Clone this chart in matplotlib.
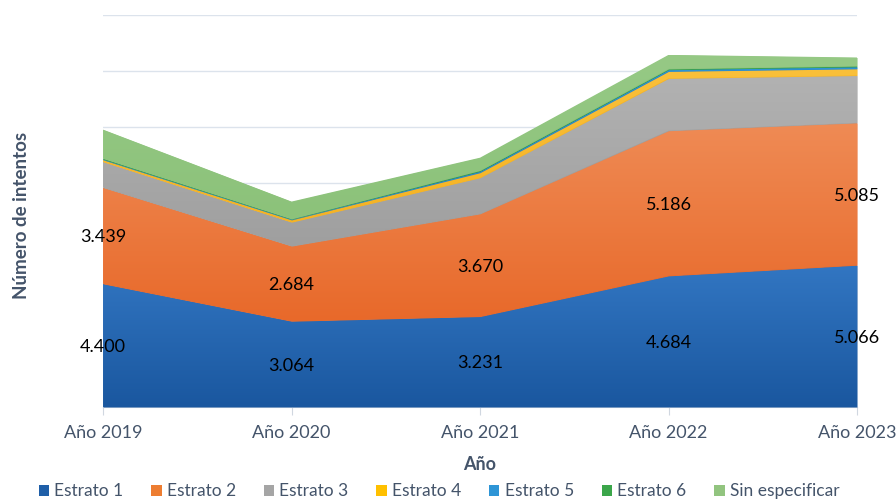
import numpy as np
import matplotlib
matplotlib.use('Agg')
import matplotlib.pyplot as plt
from matplotlib.colors import LinearSegmentedColormap
from matplotlib.patches import Patch

plt.rcParams['font.family'] = ['Lato', 'DejaVu Sans']

# datos
anios = ['Año 2019', 'Año 2020', 'Año 2021', 'Año 2022', 'Año 2023']
estrato1 = [4400, 3064, 3231, 4684, 5066]
estrato2 = [3439, 2684, 3670, 5186, 5085]
estrato3 = [920, 855, 1290, 1870, 1690]
estrato4 = [70, 80, 180, 250, 240]
estrato5 = [20, 20, 50, 60, 70]
estrato6 = [30, 20, 30, 30, 30]
sin_especificar = [1030, 615, 455, 500, 305]

series = [estrato1, estrato2, estrato3, estrato4, estrato5, estrato6, sin_especificar]
nombres = ['Estrato 1', 'Estrato 2', 'Estrato 3', 'Estrato 4', 'Estrato 5',
           'Estrato 6', 'Sin especificar']
# (color arriba, color abajo) para el degradado
colores = [('#3276C2', '#1A579F'), ('#EF8B55', '#E8692A'), ('#B2B2B2', '#9F9F9F'),
           ('#FAC03A', '#F5B324'), ('#2E95D6', '#2A86C6'), ('#3BA64A', '#339A43'),
           ('#96C985', '#8CC27A')]
color_leyenda = ['#1F5FA8', '#ED7D31', '#A5A5A5', '#FFC000', '#2E95D6', '#3BA64A', '#92C47F']
texto = '#44546A'

x = np.arange(len(anios))
fig = plt.figure(figsize=(8.96, 5.04), dpi=100)
ax = fig.add_axes([0.115, 0.1925, 0.8415, 0.7775])

abajo = np.zeros(len(x))
for i, (vals, (c_top, c_bot)) in enumerate(zip(series, colores)):
    arriba = abajo + np.array(vals)
    poly = ax.fill_between(x, abajo, arriba, color=c_bot, lw=0, zorder=2 + i)
    cmap = LinearSegmentedColormap.from_list('g', [c_bot, c_top])
    y0, y1 = abajo.min(), arriba.max()
    grad = np.linspace(0, 1, 256).reshape(-1, 1)
    im = ax.imshow(grad, extent=[x[0], x[-1], y0, y1], origin='lower',
                   aspect='auto', cmap=cmap, zorder=2 + i, interpolation='bilinear')
    im.set_clip_path(poly.get_paths()[0], transform=ax.transData)
    # etiquetas solo para estratos 1 y 2
    if i < 2:
        for xi, lo, hi, v in zip(x, abajo, arriba, vals):
            ax.text(xi, (lo + hi) / 2, f'{v/1000:.3f}', ha='center', va='center_baseline',
                    fontsize=13, color='black', zorder=20)
    abajo = arriba

ax.set_xlim(x[0], x[-1])
ax.set_ylim(0, 14000)
ax.set_yticks(np.arange(0, 14001, 2000))
ax.set_yticklabels([])
ax.tick_params(axis='y', length=0)
ax.grid(axis='y', color='#DCE3EC', lw=1, zorder=0)
ax.set_axisbelow(True)

ax.set_xticks(x)
ax.set_xticklabels(anios, fontsize=13, color=texto)
ax.tick_params(axis='x', length=6, color='#D0D7E0', pad=7)
for s in ['top', 'right', 'left']:
    ax.spines[s].set_visible(False)
ax.spines['bottom'].set_color('#D0D7E0')
ax.spines['bottom'].set_zorder(1)

ax.set_xlabel('Año', fontsize=13, fontweight='bold', color=texto, labelpad=11)
ax.set_ylabel('Número de intentos', fontsize=13.5, fontweight='bold', color=texto)
ax.yaxis.set_label_coords(-0.097, 0.49)

handles = [Patch(facecolor=c, edgecolor='none', label=n) for c, n in zip(color_leyenda, nombres)]
fig.legend(handles=handles, loc='center', bbox_to_anchor=(0.49, 0.025), ncol=7,
           frameon=False, fontsize=12.5, handlelength=0.6, handleheight=0.6,
           handletextpad=0.3, columnspacing=1.6, labelcolor=texto)

fig.savefig('out.png', dpi=100)
